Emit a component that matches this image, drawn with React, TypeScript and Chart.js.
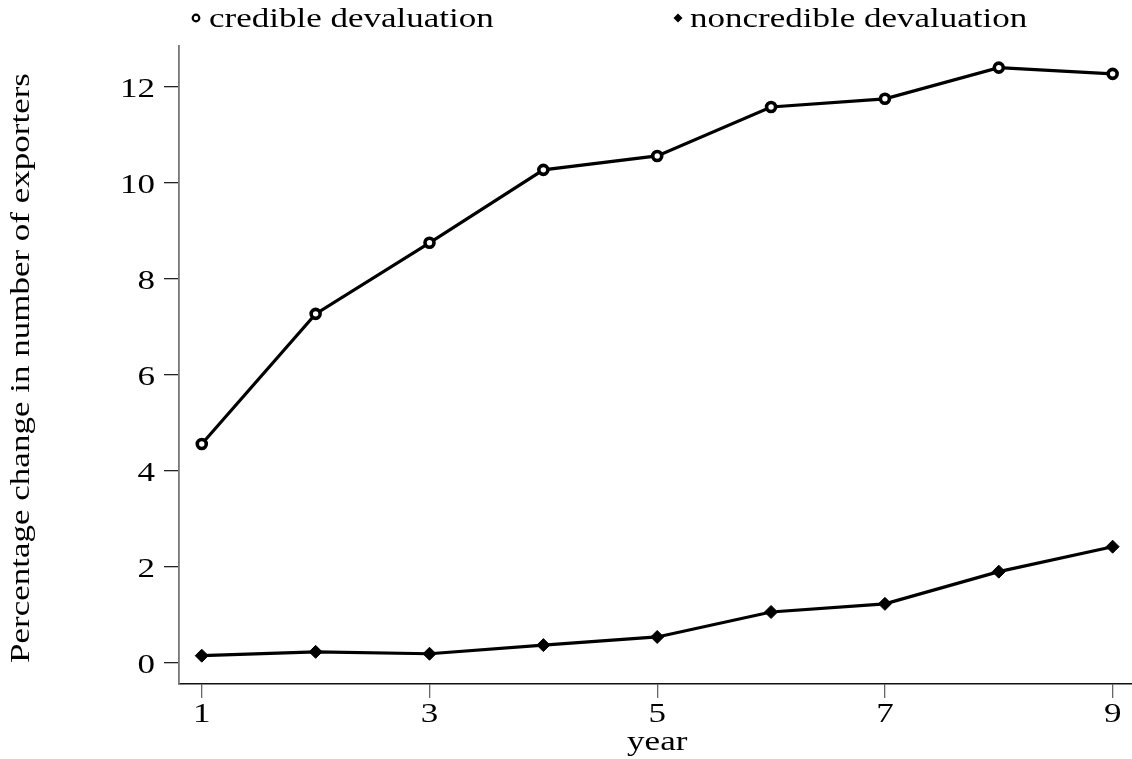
import React, { useEffect, useRef } from "react";
import { Chart, registerables } from "chart.js";

Chart.register(...registerables);

const years = [1, 2, 3, 4, 5, 6, 7, 8, 9];
const credible = [4.56, 7.27, 8.75, 10.27, 10.56, 11.58, 11.75, 12.4, 12.27];
const noncredible = [0.15, 0.23, 0.19, 0.37, 0.54, 1.06, 1.23, 1.9, 2.42];
const xTickValues = [1, 3, 5, 7, 9];
const yTickValues = [0, 2, 4, 6, 8, 10, 12];
const seriesLabels = ["credible devaluation", "noncredible devaluation"];
const xTitle = "year";
const yTitle = "Percentage change in number of exporters";

const FONT = "'Liberation Serif', 'Times New Roman', serif";
const SX = 1.25;
const FS = 28;

function drawStretched(
  ctx: CanvasRenderingContext2D,
  text: string,
  x: number,
  y: number,
  align: CanvasTextAlign,
  size: number,
  rotate = 0
) {
  ctx.save();
  ctx.translate(x, y);
  if (rotate) ctx.rotate(rotate);
  ctx.scale(SX, 1);
  ctx.font = `${size}px ${FONT}`;
  ctx.textAlign = align;
  ctx.textBaseline = "alphabetic";
  ctx.fillStyle = "#000";
  ctx.fillText(text, 0, 0);
  ctx.restore();
}

const textPlugin = {
  id: "stretchedText",
  afterDraw(chart: any) {
    const ctx: CanvasRenderingContext2D = chart.ctx;
    const xs = chart.scales.x;
    const ys = chart.scales.y;
    ys.ticks.forEach((t: any) => {
      const py = ys.getPixelForValue(t.value);
      drawStretched(ctx, String(t.value), 155, py + 10, "right", FS);
    });
    xs.ticks.forEach((t: any) => {
      const px = xs.getPixelForValue(t.value);
      drawStretched(ctx, String(t.value), px, 722, "center", FS);
    });
    drawStretched(ctx, xTitle, xs.getPixelForValue(5), 750, "center", FS);
    drawStretched(ctx, yTitle, 29, 368, "center", FS, -Math.PI / 2);
    // legend
    ctx.save();
    ctx.strokeStyle = "#000";
    ctx.lineWidth = 2.2;
    ctx.beginPath();
    ctx.arc(196, 18, 3.3, 0, Math.PI * 2);
    ctx.stroke();
    ctx.fillStyle = "#000";
    ctx.beginPath();
    ctx.moveTo(678, 13.5);
    ctx.lineTo(682.5, 18);
    ctx.lineTo(678, 22.5);
    ctx.lineTo(673.5, 18);
    ctx.closePath();
    ctx.fill();
    ctx.restore();
    drawStretched(ctx, seriesLabels[0], 209, 27, "left", FS);
    drawStretched(ctx, seriesLabels[1], 690, 27, "left", FS);
  },
};

export default function App() {
  const ref = useRef<HTMLCanvasElement | null>(null);
  useEffect(() => {
    if (!ref.current) return;
    const chart = new Chart(ref.current, {
      type: "line",
      data: {
        datasets: [
          {
            label: seriesLabels[0],
            data: years.map((x, i) => ({ x, y: credible[i] })),
            borderColor: "#000",
            borderWidth: 3.2,
            pointStyle: "circle",
            pointRadius: 4.5,
            pointBorderWidth: 3.6,
            pointBackgroundColor: "#fff",
            pointBorderColor: "#000",
            tension: 0,
          },
          {
            label: seriesLabels[1],
            data: years.map((x, i) => ({ x, y: noncredible[i] })),
            borderColor: "#000",
            borderWidth: 3.2,
            pointStyle: "rectRot",
            pointRadius: 6.5,
            pointBorderWidth: 1,
            pointBackgroundColor: "#000",
            pointBorderColor: "#000",
            tension: 0,
          },
        ],
      },
      options: {
        animation: false,
        responsive: false,
        maintainAspectRatio: false,
        layout: { autoPadding: false, padding: { top: 46, left: 0, right: 0, bottom: 0 } },
        plugins: {
          legend: { display: false },
          tooltip: { enabled: false },
          title: { display: false },
        },
        scales: {
          x: {
            type: "linear",
            min: 0.8,
            max: 9.17,
            afterBuildTicks: (s: any) => {
              s.ticks = xTickValues.map((v) => ({ value: v }));
            },
            afterFit: (s: any) => {
              s.height = 75;
            },
            ticks: { color: "rgba(0,0,0,0)", font: { size: 6 } },
            grid: {
              display: true,
              drawOnChartArea: false,
              drawTicks: true,
              tickLength: 14,
              color: "#666",
              lineWidth: 1.3,
            },
            border: { display: true, color: "#111", width: 1.5 },
          },
          y: {
            type: "linear",
            min: -0.44,
            max: 12.85,
            afterBuildTicks: (s: any) => {
              s.ticks = yTickValues.map((v) => ({ value: v }));
            },
            afterFit: (s: any) => {
              s.width = 179;
            },
            ticks: { color: "rgba(0,0,0,0)", font: { size: 6 } },
            grid: {
              display: true,
              drawOnChartArea: false,
              drawTicks: true,
              tickLength: 15,
              color: "#222",
              lineWidth: 1.3,
            },
            border: { display: true, color: "#777", width: 1.8 },
          },
        },
      },
      plugins: [textPlugin],
    });
    return () => chart.destroy();
  }, []);
  return (
    <div style={{ position: "absolute", left: 0, top: 0, width: 1132, height: 759, background: "#fff" }}>
      <canvas ref={ref} width={1132} height={759} style={{ width: 1132, height: 759, display: "block" }} />
    </div>
  );
}
